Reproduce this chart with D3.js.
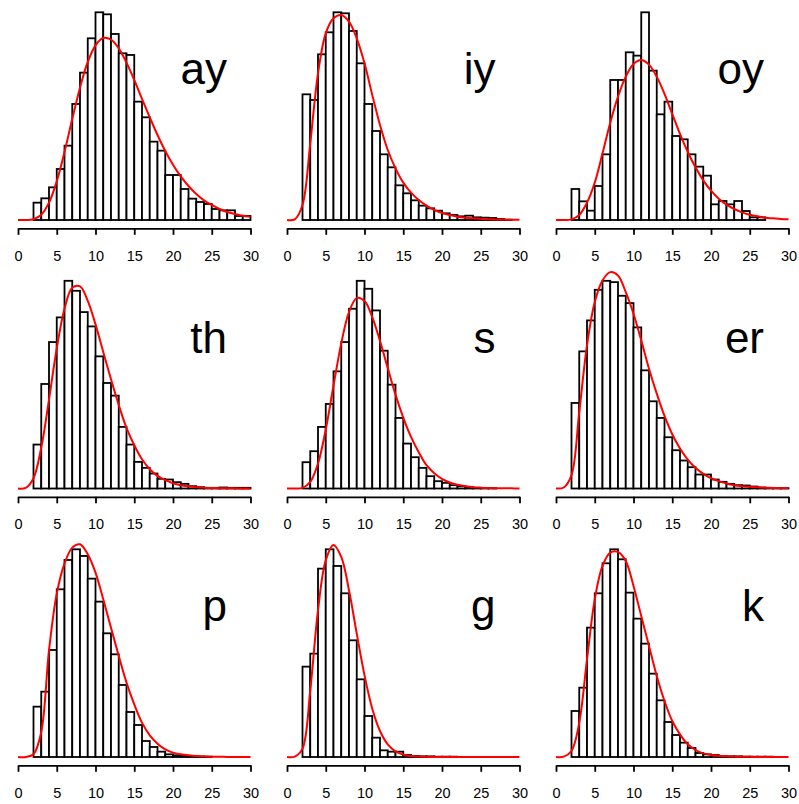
<!DOCTYPE html>
<html>
<head>
<meta charset="utf-8">
<script src="https://cdn.jsdelivr.net/npm/d3@7"></script>
<style>
  html, body { margin: 0; padding: 0; background: #fff; }
  svg { display: block; }
  text { font-family: "Liberation Sans", Arial, Helvetica, sans-serif; }
</style>
</head>
<body>
<script>
// Duration histograms per phone (1-unit bins from 2 to 30) with fitted density curves.
const binStarts = d3.range(2, 30);       // left edge of each bin
const fitX = d3.range(0, 31);            // positions of fitted-curve samples
const xTicks = [0, 5, 10, 15, 20, 25, 30];
const phones = ["ay", "iy", "oy", "th", "s", "er", "p", "g", "k"];

const countsAy = [52,65,98,153,223,348,442,545,623,617,558,500,495,355,308,235,208,135,135,93,64,54,48,33,29,29,12,12];
const fitAy    = [0,0.06,2.4,15.7,52,116,204,303,397,474,524,546,541,515,472,420,363,308,255,207,166,131,102,78,59,45,33,24,18,13,9.4];

const countsIy = [377,360,497,563,623,620,567,470,348,267,197,158,104,80,59,43,35,28,20,15,11,13,8,7,6,3,1,0];
const fitIy    = [0,2,45,230,440,560,605,615,595,545,470,375,285,210,155,112,82,60,43,30,21,15,10,7,5,3.5,2.5,1.7,1.2,0.8,0.5];

const countsOy = [93,56,28,102,197,420,420,503,493,623,448,317,355,252,242,197,160,133,47,57,47,57,27,8,8,0,0,0];
const fitOy    = [0,0,2,15,52,112,200,292,370,430,468,480,466,430,378,318,258,204,158,119,88,64,46,33,23,16,11,7,5,3,2];

const countsTh = [132,314,440,514,624,594,530,487,397,317,279,185,132,80,62,45,29,27,19,14,7,4,2,2,3,2,2,2];
const fitTh    = [0,2,31,123,267,421,540,603,607,564,493,410,328,251,182,130,88,58,38,25,16,10,6.5,4,2.6,1.7,1.1,0.7,0.45,0.3,0.2];

const countsS  = [79,112,185,254,352,440,540,624,600,535,414,312,212,135,94,62,37,22,17,10,7,4,2,1,1,0,0,0];
const fitS     = [0,0,2,20,75,177,309,436,530,572,563,515,443,362,282,213,155,109,70,46,29,18,11,7,4,2.5,1.5,1,0.6,0.4,0.2];

const countsEr = [257,412,505,597,624,620,579,557,484,355,262,212,154,115,84,64,42,42,27,20,14,10,9,6,3,2,1,1];
const fitEr    = [0,3,40,230,430,560,625,650,640,590,525,445,360,285,218,163,120,87,62,44,31,22,15,10,7,5,3.4,2.3,1.6,1.1,0.7];

const countsP  = [151,196,321,503,591,623,603,535,466,371,308,216,135,96,48,30,16,8,5,3,2,1,1,0,0,0,0,0];
const fitP     = [0,0,8,75,320,490,580,628,638,608,553,473,388,303,223,158,103,65,40,23,13,8,5,3,2,1,0.5,0.3,0.2,0.1,0.1];

const countsG  = [271,310,565,623,573,491,350,233,123,58,20,16,16,6,3,2,2,1,1,1,0,0,0,0,0,0,0,0];
const fitG     = [0,1,25,200,440,590,636,600,500,370,245,145,78,38,17,7,3,1.2,0.5,0.2,0.1,0,0,0,0,0,0,0,0,0,0];

const countsK  = [138,208,388,491,581,623,593,493,415,340,250,170,105,66,43,27,12,8,6,3,2,2,1,1,1,1,0,0];
const fitK     = [0,1,18,103,293,473,573,613,615,588,513,423,333,243,168,108,68,38,21,11,6,3.5,2,1.2,0.7,0.4,0.3,0.2,0.1,0.1,0];

const allCounts = [countsAy, countsIy, countsOy, countsTh, countsS, countsEr, countsP, countsG, countsK];
const allFits   = [fitAy, fitIy, fitOy, fitTh, fitS, fitEr, fitP, fitG, fitK];

const W = 799, H = 804;
const svg = d3.select("body").append("svg")
  .attr("width", W).attr("height", H)
  .attr("viewBox", `0 0 ${W} ${H}`);
svg.append("rect").attr("width", W).attr("height", H).attr("fill", "#fff");

// Panel geometry (3 x 3 grid)
const colStep = 269, rowStep = 268.5;
const xLeft = 18, xRight = 250.5;
const yBase = 220, yTop = 12.3, axisY = 228.3;

phones.forEach((name, i) => {
  const col = i % 3, row = Math.floor(i / 3);
  const counts = allCounts[i], fit = allFits[i];
  const g = svg.append("g").attr("transform", `translate(${col * colStep},${row * rowStep})`);

  const x = d3.scaleLinear().domain([0, 30]).range([xLeft, xRight]);
  const y = d3.scaleLinear().domain([0, d3.max(counts)]).range([yBase, yTop]);

  // bars
  g.append("g").selectAll("rect")
    .data(binStarts.map((b, j) => ({ x0: b, x1: b + 1, v: counts[j] })))
    .join("rect")
    .attr("x", d => x(d.x0))
    .attr("width", d => x(d.x1) - x(d.x0))
    .attr("y", d => y(d.v))
    .attr("height", d => y(0) - y(d.v))
    .attr("fill", "#fff")
    .attr("stroke", "#000")
    .attr("stroke-width", 1.8);

  // fitted density
  const line = d3.line()
    .x(d => x(d[0]))
    .y(d => y(Math.max(0, d[1])))
    .curve(d3.curveCatmullRom);
  g.append("path")
    .datum(fitX.map((v, j) => [v, fit[j]]))
    .attr("d", line)
    .attr("fill", "none")
    .attr("stroke", "#ff0000")
    .attr("stroke-width", 2);

  // x axis
  const ax = g.append("g")
    .attr("transform", `translate(0,${axisY})`)
    .call(d3.axisBottom(x).tickValues(xTicks).tickSize(6.5).tickSizeOuter(0));
  ax.select(".domain").attr("stroke", "#000").attr("stroke-width", 1.8);
  ax.selectAll(".tick line").attr("stroke", "#000").attr("stroke-width", 1.8);
  ax.selectAll(".tick text")
    .attr("dy", null)
    .attr("y", 32.4)
    .attr("fill", "#000")
    .style("font-size", "14.5px")
    .style("font-family", "'Liberation Sans', Arial, Helvetica, sans-serif");

  // phone label
  g.append("text")
    .attr("x", 227 - col * 0.5)
    .attr("y", 84)
    .attr("text-anchor", "end")
    .attr("fill", "#000")
    .style("font-size", "44px")
    .text(name);
});
</script>
</body>
</html>
